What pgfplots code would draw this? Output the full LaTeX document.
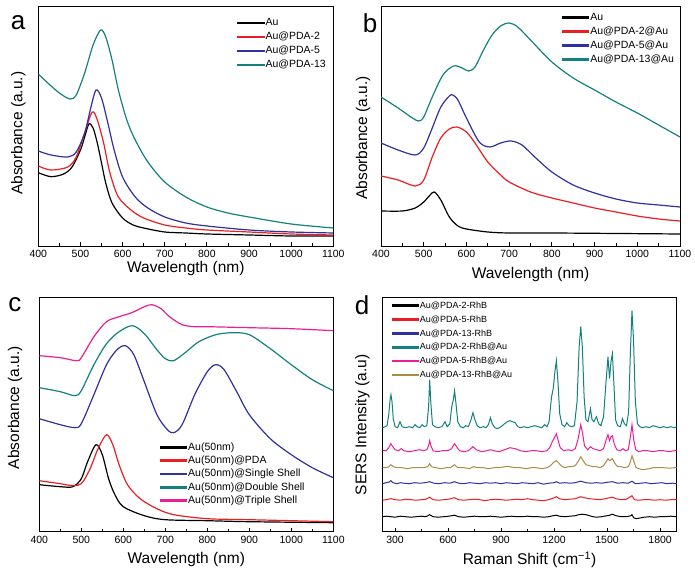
\documentclass[border=0pt]{standalone}
\usepackage{pgfplots}
\pgfplotsset{compat=1.18}
\usepackage{fontspec}
\setmainfont{Liberation Sans}
\definecolor{cred}{RGB}{235,30,35}
\definecolor{cblue}{RGB}{48,48,160}
\definecolor{cteal}{RGB}{20,128,128}
\definecolor{cpink}{RGB}{235,30,150}
\definecolor{cgold}{RGB}{168,140,72}
\pgfplotsset{
 panel/.style={
  scale only axis, width=295pt, height=240pt,
  xmin=400, xmax=1100, ymin=0, ymax=240,
  ytick=\empty, xtick={400,500,...,1100}, minor x tick num=1,
  xtick pos=bottom, tick align=inside, major tick length=3.5pt, minor tick length=2.5pt,
  axis line style={line width=0.9pt},
  every tick/.style={black, line width=0.8pt},
  tick label style={font=\fontsize{10.5}{12}\selectfont},
  xticklabel style={yshift=-1pt},
  /pgf/number format/assume math mode=true,
  /pgf/number format/1000 sep={},
  label style={font=\fontsize{15.5}{18}\selectfont},
  xlabel style={at={(axis description cs:0.5,-0.094)}, anchor=center},
  every axis plot/.append style={line width=1.2pt},
  legend cell align=left,
  legend image code/.code={\fill[##1] (0pt,-0.8pt) rectangle (26pt,0.8pt);},
  legend style={draw=none, fill=none, inner sep=0pt, font=\fontsize{10.5}{12}\selectfont,
    nodes={inner sep=1pt, text height=8pt, text depth=2pt}, row sep=2pt},
 },
}
\begin{document}
\begin{tikzpicture}[x=1pt,y=1pt]
\useasboundingbox (0,0) rectangle (695,577);
% ---------------- panel a
\begin{axis}[panel, at={(38.3pt,331pt)}, anchor=south west,
  xlabel={Wavelength (nm)}, ylabel={Absorbance (a.u.)},
  ylabel style={at={(axis description cs:-0.068,0.47)}, anchor=center},
  legend style={at={(axis description cs:0.674,0.955)}, anchor=north west}]
\addplot[black, smooth] coordinates {(400,73.3)(430,69.3)(460,72)(480,79)(500,96)(510,109)(520,122)(530,118)(540,103)(550,83)(560,63)(575,43)(600,28)(625,21)(650,18)(700,14)(750,13)(800,12)(900,11)(1000,10)(1100,10)};
\addlegendentry{Au}
\addplot[cred, smooth] coordinates {(400,80)(430,76)(470,79)(490,89)(510,113)(528,134)(540,126)(555,103)(570,73)(590,49)(620,36)(650,28)(700,21)(750,18)(800,16)(900,14)(1000,12)(1100,11)};
\addlegendentry{Au@PDA-2}
\addplot[cblue, smooth] coordinates {(400,95)(430,91)(470,89)(490,94)(510,113)(525,139)(537,156)(550,148)(565,123)(580,96)(600,69)(630,49)(660,38)(700,29)(750,23)(800,20)(900,16)(1000,14)(1100,13)};
\addlegendentry{Au@PDA-5}
\addplot[cteal, smooth] coordinates {(400,172)(420,164)(450,153)(475,147)(490,151)(510,173)(530,201)(548,216)(560,209)(575,186)(590,156)(610,126)(630,106)(660,84)(700,64)(750,49)(800,39)(850,33)(900,29)(1000,22)(1100,18)};
\addlegendentry{Au@PDA-13}
\end{axis}
% ---------------- panel b
\begin{axis}[panel, width=299pt, at={(381pt,331pt)}, anchor=south west,
  xlabel={Wavelength (nm)}, ylabel={Absorbance (a.u.)},
  xlabel style={at={(axis description cs:0.5,-0.118)}, anchor=center},
  ylabel style={at={(axis description cs:-0.06,0.45)}, anchor=center},
  legend style={at={(axis description cs:0.605,0.979)}, anchor=north west}]
\addplot[black, smooth] coordinates {(400,35)(450,35)(480,38)(500,44)(515,51)(525,54)(540,46)(560,29)(580,20)(600,17)(650,14)(700,13)(800,13)(1100,12)};
\addlegendentry{Au}
\addplot[cred, smooth] coordinates {(400,70)(440,66)(480,60)(500,66)(520,89)(540,108)(560,117)(578,119)(600,114)(620,103)(650,84)(680,71)(700,64)(750,54)(800,48)(850,43)(900,38)(950,34)(1000,30)(1050,27)(1100,25)};
\addlegendentry{Au@PDA-2@Au}
\addplot[cblue, smooth] coordinates {(400,103)(440,96)(480,91)(500,98)(520,118)(540,139)(560,150)(568,151)(580,146)(600,128)(630,104)(655,99)(680,103)(705,105)(730,101)(760,89)(800,74)(850,61)(900,53)(950,47)(1000,43)(1050,41)(1100,39)};
\addlegendentry{Au@PDA-5@Au}
\addplot[cteal, smooth] coordinates {(400,149)(440,138)(470,129)(488,125)(500,129)(520,149)(545,171)(570,180)(590,178)(605,175)(620,179)(640,196)(660,211)(680,220)(700,223)(720,219)(750,206)(800,184)(850,168)(900,156)(950,144)(1000,133)(1050,121)(1100,109)};
\addlegendentry{Au@PDA-13@Au}
\end{axis}
% ---------------- panel c
\begin{axis}[panel, width=294pt, height=234pt, ymax=234, at={(39.3pt,45.3pt)}, anchor=south west,
  xlabel={Wavelength (nm)}, ylabel={Absorbance (a.u.)},
  xlabel style={at={(axis description cs:0.5,-0.12)}, anchor=center},
  ylabel style={at={(axis description cs:-0.082,0.53)}, anchor=center},
  legend style={at={(axis description cs:0.41,0.386)}, anchor=north west,
    nodes={inner sep=1pt, text height=7.8pt, text depth=2pt}, row sep=1.5pt}]
\addplot[black, smooth] coordinates {(400,47)(450,45)(480,45)(500,53)(515,70)(535,87)(550,77)(565,53)(580,37)(600,25)(650,16)(700,12)(800,11)(900,10)(1100,9)};
\addlegendentry{Au(50nm)}
\addplot[cred, smooth] coordinates {(400,51)(450,48)(480,46)(500,48)(520,62)(540,83)(560,97)(575,87)(590,67)(610,47)(640,33)(680,23)(720,17)(800,13)(900,12)(1000,11)(1100,10)};
\addlegendentry{Au(50nm)@PDA}
\addplot[cblue, smooth] coordinates {(400,113)(450,107)(485,104)(500,108)(530,137)(560,167)(585,182)(605,186)(625,177)(650,150)(680,117)(705,102)(720,99)(740,107)(770,137)(800,160)(820,167)(840,162)(870,140)(900,117)(950,93)(1000,77)(1050,64)(1100,54)};
\addlegendentry{Au(50nm)@Single Shell}
\addplot[cteal, smooth] coordinates {(400,144)(450,140)(485,136)(500,141)(530,167)(560,188)(590,200)(622,206)(650,198)(680,182)(700,173)(720,171)(750,180)(780,190)(820,197)(860,199)(900,197)(950,183)(1000,167)(1050,152)(1100,141)};
\addlegendentry{Au(50nm)@Double Shell}
\addplot[cpink, smooth] coordinates {(400,176)(450,174)(488,171)(500,174)(530,195)(560,210)(590,215)(620,219)(650,225)(668,227)(690,223)(710,215)(740,207)(770,205)(800,205)(900,204)(1000,203)(1100,201)};
\addlegendentry{Au(50nm)@Triple Shell}
\end{axis}
% ---------------- panel d
\begin{axis}[panel, width=294.4pt, height=234pt, ymax=234, xmin=228, xmax=1894,
  xtick={300,600,...,1800}, at={(382.3pt,45.3pt)}, anchor=south west,
  xlabel={Raman Shift (cm\textsuperscript{−1})}, ylabel={SERS Intensity (a.u)},
  xlabel style={at={(axis description cs:0.5,-0.12)}, anchor=center},
  ylabel style={at={(axis description cs:-0.068,0.456)}, anchor=center},
  every axis plot/.append style={line width=1pt},
  legend style={at={(axis description cs:0.032,0.992)}, anchor=north west,
    font=\fontsize{9}{11}\selectfont,
    nodes={inner sep=1pt, text height=7.5pt, text depth=2pt}, row sep=2.4pt}]
\addplot[black] coordinates {(230,15)(250,15.5)(276,15)(300,14.5)(330,15.5)(360,15)(390,14.5)(420,15)(450,15.5)(475,15)(496,17)(515,15)(545,14.5)(575,15)(605,15.5)(636,16.5)(660,15)(690,14.5)(720,15)(750,15.5)(780,15)(810,15)(840,15.5)(870,15)(900,14.5)(930,15)(960,15.5)(990,15)(1020,15)(1050,15.5)(1080,15)(1110,15)(1140,14.5)(1170,15)(1195,16)(1213,16.5)(1230,15.5)(1260,15)(1290,15.5)(1320,16)(1340,17)(1360,17.5)(1380,17)(1400,16)(1420,15)(1440,14.5)(1470,15)(1500,16)(1515,16.5)(1530,17.5)(1550,16)(1580,15)(1610,15)(1635,16)(1641,17)(1650,14)(1665,13)(1680,13.5)(1710,14.5)(1740,15)(1770,14.5)(1800,15)(1830,15)(1860,15.5)(1894,15)};
\addlegendentry{Au@PDA-2-RhB}
\addplot[cred] coordinates {(230,31.5)(250,32)(276,33)(300,32)(330,31.5)(360,32.5)(390,32)(420,31.5)(450,32)(475,32.5)(496,34.5)(515,32)(545,31.5)(575,32)(605,32.5)(636,34)(660,32)(690,31.5)(720,32)(750,32.5)(780,32)(810,31)(840,32)(870,32.5)(900,32)(930,31.5)(960,32)(990,32.5)(1020,32)(1050,33)(1080,32)(1110,31.5)(1140,31)(1170,32)(1195,33.5)(1213,35)(1230,33)(1260,32)(1290,32.5)(1320,33)(1351,35)(1370,34)(1400,33)(1430,32.5)(1460,32)(1490,33)(1515,34)(1530,34.5)(1550,33)(1580,32)(1610,32.5)(1641,36)(1655,32)(1680,31.5)(1710,32)(1740,32)(1770,31.5)(1800,32)(1830,31.5)(1860,32)(1894,32)};
\addlegendentry{Au@PDA-5-RhB}
\addplot[cblue] coordinates {(230,48)(250,49)(265,49.5)(276,51)(288,49)(310,48)(330,49)(350,48.5)(380,48)(410,49)(440,48.5)(470,49)(496,50)(520,48.5)(550,48)(580,49)(610,48.5)(636,50)(660,48.5)(690,48)(720,49)(750,48.5)(780,48)(810,49)(840,48.5)(870,49)(900,48)(930,49)(960,48.5)(990,48)(1020,49)(1050,48.5)(1080,48)(1110,49)(1140,47.5)(1170,48.5)(1200,49)(1213,50)(1230,48.5)(1260,49)(1290,48.5)(1320,49)(1351,50.5)(1380,49)(1410,48.5)(1440,49)(1470,48.5)(1505,49.5)(1530,50)(1560,48.5)(1590,49)(1620,48.5)(1641,50.5)(1660,48)(1690,48.5)(1720,49)(1750,48)(1780,48.5)(1810,49)(1840,48)(1870,48.5)(1894,48)};
\addlegendentry{Au@PDA-13-RhB}
\addplot[cteal] coordinates {(230,104)(245,105)(255,106)(265,118)(272,132)(277,137)(283,130)(290,113)(300,105)(315,104)(328,110)(340,105)(360,104)(380,105)(400,104)(413,107)(425,105)(440,104)(453,107)(465,105)(480,106)(490,125)(496,152)(503,128)(512,107)(525,105)(545,104)(565,105)(583,110)(595,105)(610,108)(621,125)(630,132)(637,141)(645,128)(655,110)(670,105)(687,104)(700,106)(715,105)(730,112)(741,119)(752,112)(765,106)(780,104)(800,105)(815,104)(828,107)(840,114)(850,108)(865,104)(880,103)(900,105)(920,108)(935,110)(950,111)(965,110)(980,109)(995,105)(1010,104)(1030,105)(1050,104)(1070,105)(1090,106)(1110,105)(1130,104)(1147,107)(1160,105)(1172,110)(1185,134)(1195,143)(1205,160)(1213,171)(1222,150)(1232,118)(1245,107)(1260,105)(1272,109)(1285,106)(1300,105)(1315,106)(1330,130)(1342,185)(1351,205)(1360,185)(1370,135)(1380,112)(1392,110)(1406,123)(1415,112)(1425,110)(1440,115)(1452,108)(1465,106)(1480,115)(1492,145)(1505,175)(1514,153)(1522,170)(1530,178)(1538,150)(1548,112)(1560,106)(1575,105)(1587,113)(1598,108)(1610,106)(1622,120)(1632,180)(1641,221)(1650,190)(1660,130)(1672,108)(1685,105)(1700,104)(1720,105)(1740,104)(1760,106)(1780,105)(1800,104)(1820,105)(1840,104)(1860,105)(1880,104)(1894,105)};
\addlegendentry{Au@PDA-2-RhB@Au}
\addplot[cpink] coordinates {(230,81)(250,81)(265,84)(276,88)(288,85)(300,82)(320,81)(335,83)(350,81)(380,80)(410,81)(440,82)(460,81)(480,82)(490,86)(496,91)(503,86)(515,81)(540,80)(570,81)(600,81)(620,83)(636,88)(648,85)(665,81)(690,80)(715,81)(741,85)(760,82)(790,80)(820,81)(840,82)(860,81)(890,80)(920,82)(950,84)(980,83)(1010,81)(1040,80)(1070,81)(1100,81)(1130,80)(1160,81)(1175,84)(1190,90)(1205,95)(1213,98)(1222,92)(1235,84)(1255,81)(1280,82)(1300,81)(1320,83)(1335,92)(1351,107)(1362,98)(1372,86)(1390,82)(1406,85)(1420,83)(1440,82)(1460,81)(1480,83)(1495,92)(1505,97)(1514,91)(1522,95)(1530,96)(1540,88)(1555,82)(1575,81)(1590,83)(1605,81)(1620,82)(1632,95)(1641,107)(1650,93)(1662,82)(1680,80)(1700,81)(1730,81)(1760,80)(1790,81)(1820,81)(1850,80)(1880,81)(1894,81)};
\addlegendentry{Au@PDA-5-RhB@Au}
\addplot[cgold] coordinates {(230,64)(250,64)(265,65)(276,67)(290,65)(310,64)(340,64)(370,63)(400,64)(430,64)(460,64)(485,65)(496,68)(507,65)(530,64)(560,63)(590,64)(615,64)(636,67)(655,64)(690,64)(720,63)(745,65)(770,64)(800,64)(830,63)(860,64)(890,64)(920,65)(950,65)(980,64)(1010,64)(1040,63)(1070,64)(1100,64)(1130,63)(1160,64)(1180,66)(1195,69)(1213,71)(1225,69)(1240,66)(1260,64)(1280,65)(1300,65)(1320,66)(1335,70)(1351,75)(1365,71)(1380,67)(1400,66)(1420,65)(1440,65)(1460,64)(1480,66)(1495,70)(1505,73)(1515,71)(1530,73)(1545,68)(1560,65)(1580,65)(1600,64)(1620,65)(1632,70)(1641,76)(1652,70)(1665,64)(1680,63)(1700,62)(1720,62.5)(1740,63)(1760,64)(1790,64)(1820,64)(1850,63.5)(1880,64)(1894,64)};
\addlegendentry{Au@PDA-13-RhB@Au}
\end{axis}
% panel letters
\node[font=\fontsize{26}{26}\selectfont] at (18,554) {a};
\node[font=\fontsize{26}{26}\selectfont] at (370,554) {b};
\node[font=\fontsize{26}{26}\selectfont] at (15,272) {c};
\node[font=\fontsize{26}{26}\selectfont] at (362,272) {d};
\end{tikzpicture}
\end{document}
